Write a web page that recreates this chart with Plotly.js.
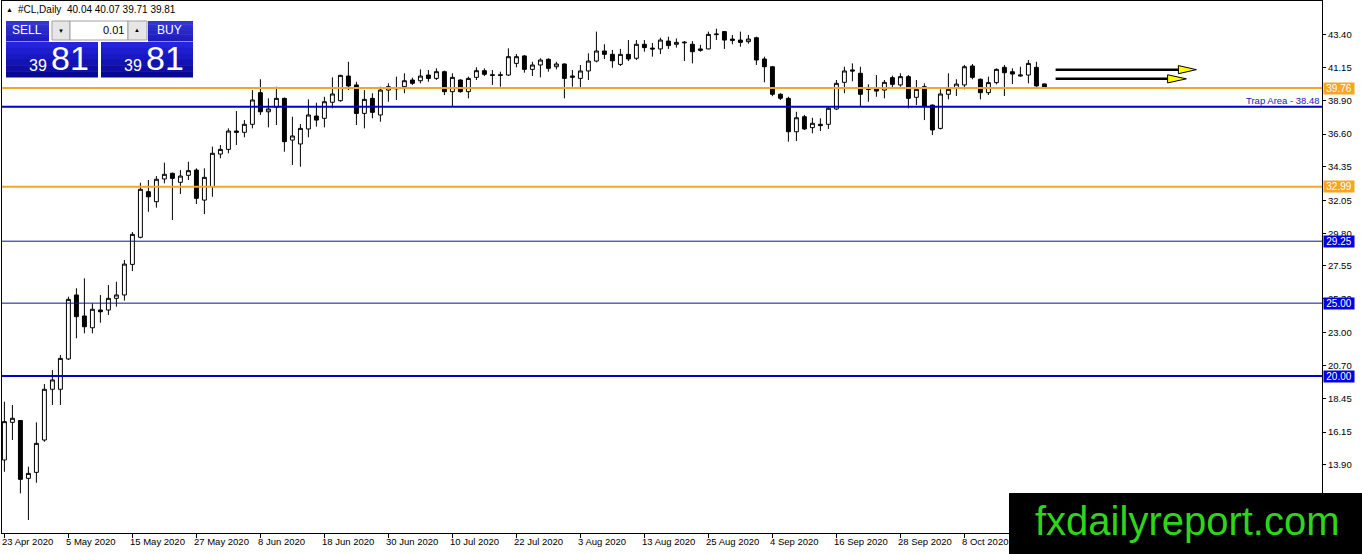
<!DOCTYPE html>
<html>
<head>
<meta charset="utf-8">
<script src="https://cdn.plot.ly/plotly-3.0.1.min.js"></script>
<style>
  html, body { margin: 0; padding: 0; background: #fff; }
  #chart_area { width: 1362px; height: 554px; }
</style>
</head>
<body>
<div id="chart_area"></div>
<script>
// #CL daily bars, 23 Apr 2020 .. 22 Oct 2020
var openPx = [14.24, 16.82, 16.95, 12.98, 13.39, 15.61, 19.09, 19.09, 21.17, 25.56,
  24.12, 23.31, 24.53, 24.53, 25.33, 25.56, 27.66, 29.52, 32.65, 31.96,
  33.52, 33.91, 33.29, 33.77, 34.13, 32.07, 33.00, 35.23, 35.55, 36.81,
  36.72, 37.27, 39.44, 38.13, 38.44, 39.05, 36.19, 35.92, 36.95, 37.84,
  37.68, 38.78, 38.89, 40.58, 39.97, 38.02, 39.05, 37.91, 39.62, 39.70,
  39.85, 40.31, 40.26, 40.65, 40.42, 40.88, 39.51, 40.31, 39.51, 40.49,
  40.95, 40.67, 40.67, 40.65, 41.45, 41.96, 41.04, 41.34, 41.73, 41.22,
  41.41, 40.49, 40.42, 40.93, 41.61, 42.30, 42.07, 41.38, 42.07, 41.80,
  42.76, 42.50, 42.44, 42.98, 42.76, 42.91, 42.76, 42.44, 42.44, 43.42,
  43.63, 43.12, 43.05, 42.94, 43.21, 41.75, 41.22, 39.33, 39.05, 36.76,
  37.79, 37.04, 37.27, 37.27, 38.32, 40.15, 41.00, 40.77, 39.74, 39.74,
  39.62, 40.47, 39.97, 40.54, 39.12, 39.85, 38.59, 36.99, 39.33, 39.78,
  39.97, 41.27, 40.36, 39.44, 40.13, 41.18, 40.88, 40.58, 40.65, 41.18,
  40.04];
var highPx = [18.24, 18.01, 16.98, 13.78, 16.82, 19.45, 20.41, 21.44, 25.44, 26.02,
  26.70, 24.99, 25.56, 26.24, 26.47, 27.96, 29.88, 33.26, 33.45, 33.72,
  34.64, 33.95, 34.13, 34.70, 34.25, 34.25, 35.74, 35.85, 36.99, 38.18,
  37.56, 39.62, 40.36, 39.05, 39.85, 39.10, 37.79, 37.29, 38.98, 38.75,
  39.16, 40.49, 40.66, 41.56, 40.19, 39.62, 39.40, 39.85, 40.08, 40.54,
  40.77, 40.47, 41.04, 40.99, 41.11, 40.95, 40.77, 40.36, 40.54, 41.18,
  41.11, 40.99, 40.88, 42.48, 42.09, 42.02, 41.56, 41.80, 41.80, 41.56,
  41.45, 40.99, 41.34, 42.14, 43.63, 42.76, 42.37, 42.44, 43.05, 43.05,
  43.05, 42.85, 43.21, 43.28, 43.16, 42.98, 42.98, 42.72, 43.63, 43.83,
  43.66, 43.40, 43.63, 43.40, 43.28, 41.91, 41.25, 39.40, 39.16, 38.13,
  37.91, 37.72, 37.68, 38.48, 40.31, 41.22, 41.45, 41.22, 40.01, 40.65,
  40.31, 40.61, 40.77, 40.65, 40.31, 40.08, 38.62, 39.67, 40.77, 40.36,
  41.34, 41.41, 40.42, 40.54, 41.11, 41.34, 41.11, 41.22, 41.68, 41.56,
  40.07];
var lowPx = [13.43, 15.61, 11.95, 10.12, 12.68, 15.49, 18.01, 18.01, 21.10, 22.59,
  22.93, 22.93, 23.66, 24.19, 24.76, 25.17, 27.20, 29.45, 31.27, 31.55,
  33.22, 30.70, 32.49, 33.45, 31.80, 31.11, 32.30, 34.94, 35.28, 35.85,
  36.38, 36.99, 37.91, 37.06, 37.22, 35.39, 34.48, 34.36, 36.38, 37.11,
  37.06, 38.37, 38.82, 39.62, 37.22, 36.99, 37.68, 37.45, 38.82, 38.94,
  39.40, 39.97, 40.08, 40.19, 40.31, 39.28, 38.48, 39.44, 39.05, 40.31,
  40.58, 39.97, 39.85, 40.58, 41.18, 40.81, 40.58, 40.49, 40.88, 41.04,
  39.05, 39.85, 39.69, 40.31, 41.52, 41.75, 41.15, 41.27, 41.61, 41.68,
  42.25, 41.91, 42.09, 42.44, 42.53, 41.61, 41.45, 42.25, 42.41, 43.05,
  42.44, 42.76, 42.59, 42.80, 41.34, 40.15, 39.20, 38.94, 36.08, 36.12,
  36.88, 36.65, 36.81, 36.95, 38.25, 39.40, 40.22, 38.48, 38.82, 39.16,
  39.05, 39.69, 39.85, 38.37, 38.59, 37.56, 36.53, 36.92, 38.98, 39.21,
  39.67, 40.36, 38.98, 39.28, 40.01, 39.21, 40.03, 40.54, 40.08, 39.85,
  39.71];
var closePx = [16.87, 17.10, 12.91, 13.32, 15.38, 19.09, 19.73, 21.21, 25.26, 24.07,
  23.38, 24.58, 24.41, 25.33, 25.56, 27.68, 29.72, 32.81, 32.30, 33.50,
  33.84, 33.56, 33.72, 34.09, 32.19, 33.63, 35.28, 35.55, 36.81, 36.72,
  37.27, 38.94, 38.13, 38.32, 39.05, 36.08, 36.47, 36.99, 37.91, 37.56,
  38.82, 39.35, 40.63, 39.90, 38.02, 38.98, 38.09, 39.62, 39.85, 39.74,
  40.26, 40.08, 40.58, 40.42, 40.88, 39.51, 40.49, 39.51, 40.42, 40.95,
  40.70, 40.63, 40.63, 41.91, 41.91, 41.04, 41.34, 41.68, 41.11, 41.41,
  40.42, 40.58, 40.93, 41.61, 42.30, 42.07, 41.63, 42.07, 41.75, 42.76,
  42.53, 42.44, 43.05, 42.67, 42.89, 42.87, 42.25, 42.35, 43.44, 43.46,
  43.05, 43.03, 42.89, 43.12, 41.68, 41.22, 39.33, 39.06, 36.76, 37.72,
  36.95, 37.34, 37.18, 38.37, 40.08, 40.93, 40.93, 39.33, 39.67, 39.55,
  40.15, 40.01, 40.54, 39.05, 39.67, 38.52, 36.88, 39.35, 39.67, 40.03,
  41.22, 40.49, 39.44, 40.13, 41.04, 40.81, 40.72, 40.65, 41.45, 39.90,
  39.81];

var dateTicks = [0, 8, 16, 24, 32, 40, 48, 56, 64, 72, 80, 88, 96, 104, 112, 120];
var dateLabels = ['23 Apr 2020', '5 May 2020', '15 May 2020', '27 May 2020', '8 Jun 2020',
  '18 Jun 2020', '30 Jun 2020', '10 Jul 2020', '22 Jul 2020', '3 Aug 2020', '13 Aug 2020',
  '25 Aug 2020', '4 Sep 2020', '16 Sep 2020', '28 Sep 2020', '8 Oct 2020'];
var priceTicks = [43.40, 41.15, 38.90, 36.60, 34.35, 32.05, 29.80, 27.55, 25.30,
  23.00, 20.70, 18.45, 16.15, 13.90];

var resistLevels = [39.76, 32.99];      // orange lines
var supportLevels = [29.25, 25.00, 20.00]; // blue lines with price box
var trapLevel = 38.48;
var arrowLevels = [41.02, 40.39];

// ---- helpers: screen pixel -> paper coords (plot spans x 2..1322, y 1..533)
function PX(x) { return (x - 2) / 1320; }
function PY(y) { return (533 - y) / 532; }

var FONT = 'Liberation Sans, Arial, sans-serif';
var ORANGE = '#F5A623';
var BLUE = '#0000CD';

var bars = closePx.map(function (v, i) { return i; });

var candles = {
  type: 'candlestick',
  x: bars, open: openPx, high: highPx, low: lowPx, close: closePx,
  increasing: { line: { color: '#000', width: 1 }, fillcolor: '#fff' },
  decreasing: { line: { color: '#000', width: 1 }, fillcolor: '#000' },
  whiskerwidth: 0,
  hoverinfo: 'skip'
};

var shapes = [];
var annotations = [];

function hline(y, color, w) {
  shapes.push({ type: 'line', xref: 'paper', yref: 'y', x0: 0, x1: 1, y0: y, y1: y,
    line: { color: color, width: w }, layer: 'above' });
}
function priceBox(y, bg) {
  annotations.push({ xref: 'paper', yref: 'y', x: PX(1323), y: y, xanchor: 'left', yanchor: 'middle',
    text: y.toFixed(2), showarrow: false, bgcolor: bg, width: 30, height: 11, borderpad: 0,
    font: { family: FONT, size: 10, color: '#fff' } });
}
function rect(x0, y0, x1, y1, fill, line) {
  shapes.push({ type: 'rect', xref: 'paper', yref: 'paper', x0: PX(x0), x1: PX(x1), y0: PY(y0), y1: PY(y1),
    fillcolor: fill, line: { color: line || fill, width: line ? 1 : 0 }, layer: 'above' });
}
function txt(s, x, y, size, color, anchor) {
  annotations.push({ xref: 'paper', yref: 'paper', x: PX(x), y: PY(y), text: s, showarrow: false,
    xanchor: anchor || 'left', yanchor: 'middle', borderpad: 0,
    font: { family: FONT, size: size, color: color } });
}

resistLevels.forEach(function (v) { hline(v, ORANGE, 2); priceBox(v, ORANGE); });
hline(trapLevel, BLUE, 2);
supportLevels.forEach(function (v, i) {
  hline(v, i < 2 ? '#1010A0' : BLUE, i < 2 ? 1 : 2);
  priceBox(v, '#0000E0');
});
annotations.push({ xref: 'paper', yref: 'y', x: PX(1321), y: trapLevel, xanchor: 'right', yanchor: 'bottom',
  text: 'Trap Area - ' + trapLevel.toFixed(2), showarrow: false, borderpad: 0,
  font: { family: FONT, size: 9.5, color: '#2020C0' } });

// projection arrows
var arrowEnds = [[146.75, 149.0], [145.4, 147.75]];
arrowLevels.forEach(function (v, i) {
  var b = arrowEnds[i][0], t = arrowEnds[i][1], h = 0.28;
  shapes.push({ type: 'line', xref: 'x', yref: 'y', x0: 131.4, x1: b, y0: v, y1: v,
    line: { color: '#000', width: 2.5 }, layer: 'above' });
  shapes.push({ type: 'path', xref: 'x', yref: 'y',
    path: 'M' + b + ',' + (v + h) + ' L' + t + ',' + v + ' L' + b + ',' + (v - h) + ' Z',
    fillcolor: '#FFFF00', line: { color: '#000', width: 1 }, layer: 'above' });
});

// date labels (left aligned, MT4 style)
dateTicks.forEach(function (t, i) {
  annotations.push({ xref: 'x', yref: 'paper', x: t, y: PY(541), xanchor: 'left', yanchor: 'middle',
    xshift: -3, text: dateLabels[i], showarrow: false, borderpad: 0,
    font: { family: FONT, size: 9.5, color: '#000' } });
});

// header line
var last = closePx.length - 1;
txt('\u25B2', 5, 10, 7, '#000');
txt('#CL,Daily', 17, 10, 10, '#000');
txt([openPx[last], highPx[last], lowPx[last], closePx[last]].map(function (v) { return v.toFixed(2); }).join(' '),
  66, 10, 10, '#000');

// one-click trading panel
function blueBlock(x0, y0, x1, y1, top, bot) {
  var n = 6, h = (y1 - y0) / n;
  for (var k = 0; k < n; k++) {
    var f = k / (n - 1);
    var r = Math.round(top[0] + (bot[0] - top[0]) * f);
    var g = Math.round(top[1] + (bot[1] - top[1]) * f);
    var bl = Math.round(top[2] + (bot[2] - top[2]) * f);
    rect(x0, y0 + k * h, x1, y0 + (k + 1) * h + 0.5, 'rgb(' + r + ',' + g + ',' + bl + ')');
  }
}
blueBlock(6, 21, 49, 41, [52, 52, 214], [30, 30, 190]);
blueBlock(148, 21, 193, 41, [52, 52, 214], [30, 30, 190]);
blueBlock(6, 42, 98, 77, [36, 36, 222], [8, 8, 150]);
blueBlock(101, 42, 193, 77, [36, 36, 222], [8, 8, 150]);
rect(52, 21, 70, 40, '#e6e6e6', '#a0a0a0');
rect(70, 21, 128, 40, '#ffffff', '#a0a0a0');
rect(128, 21, 147, 40, '#e6e6e6', '#a0a0a0');
txt('SELL', 27, 30, 12, '#fff', 'center');
txt('BUY', 170, 30, 12, '#fff', 'center');
txt('\u25BC', 61, 31, 6, '#000', 'center');
txt('\u25B2', 137, 30, 6, '#000', 'center');
txt('0.01', 125, 30, 11, '#000', 'right');
var bigPart = closePx[last].toFixed(2).split('.');
txt(bigPart[0], 48, 66, 16, '#fff', 'right');
txt(bigPart[1], 50, 58, 34, '#fff', 'left');
txt(bigPart[0], 143, 66, 16, '#fff', 'right');
txt(bigPart[1], 145, 58, 34, '#fff', 'left');

// watermark
rect(1009, 493, 1362, 554, '#000');
txt('fxdailyreport.com', 1187, 521, 40, '#2ED51A', 'center');

var layout = {
  width: 1362, height: 554,
  margin: { l: 2, r: 40, t: 1, b: 21, pad: 0 },
  paper_bgcolor: '#fff', plot_bgcolor: '#fff',
  showlegend: false, hovermode: false,
  xaxis: { range: [-0.3, 164.7], showgrid: false, zeroline: false, showline: true, mirror: true,
    linecolor: '#000', linewidth: 1, tickvals: dateTicks, ticks: 'outside', ticklen: 4,
    tickcolor: '#000', showticklabels: false, rangeslider: { visible: false }, fixedrange: true },
  yaxis: { range: [9.23, 45.73], side: 'right', showgrid: false, zeroline: false, showline: true,
    mirror: true, linecolor: '#000', linewidth: 1, tickvals: priceTicks,
    ticktext: priceTicks.map(function (v) { return v.toFixed(2); }), ticks: 'outside', ticklen: 3,
    tickcolor: '#000', tickfont: { family: FONT, size: 9.5, color: '#000' }, automargin: false,
    fixedrange: true },
  shapes: shapes,
  annotations: annotations
};

Plotly.newPlot('chart_area', [candles], layout, { displayModeBar: false, staticPlot: true });
</script>
</body>
</html>
